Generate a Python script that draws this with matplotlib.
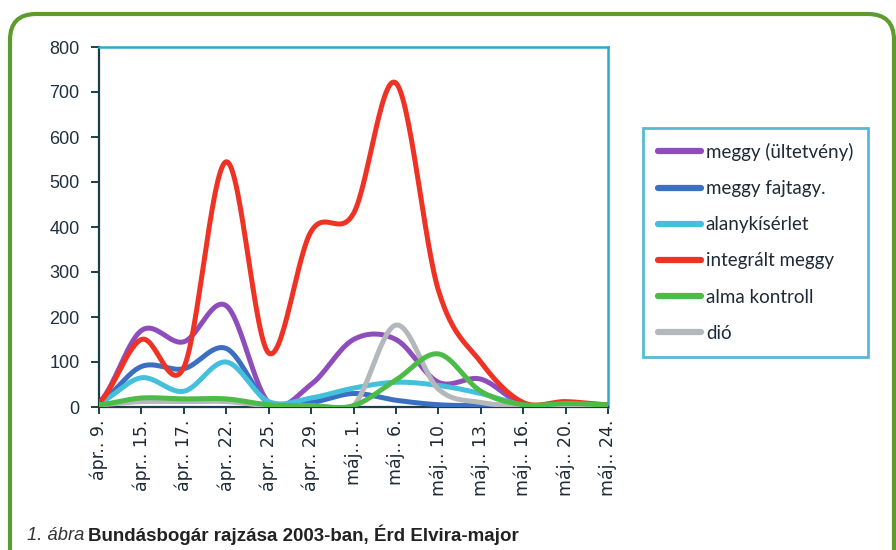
import numpy as np
import matplotlib
matplotlib.use("Agg")
import matplotlib.pyplot as plt
from matplotlib.patches import FancyBboxPatch

dates = ['ápr.. 9.', 'ápr.. 15.', 'ápr.. 17.', 'ápr.. 22.', 'ápr.. 25.', 'ápr.. 29.',
         'máj.. 1.', 'máj.. 6.', 'máj.. 10.', 'máj.. 13.', 'máj.. 16.', 'máj.. 20.', 'máj.. 24.']

meggy_ultetveny = [10, 170, 145, 225, 10, 50, 150, 150, 55, 62, 5, 3, 3]
meggy_fajtagy = [10, 90, 85, 130, 8, 10, 30, 15, 5, 3, 3, 3, 3]
alanykiserlet = [10, 65, 35, 100, 12, 20, 42, 55, 48, 30, 5, 3, 3]
integralt_meggy = [10, 150, 88, 545, 120, 390, 430, 720, 260, 100, 10, 12, 5]
alma_kontroll = [5, 20, 18, 18, 5, 3, 3, 60, 118, 35, 5, 8, 5]
dio = [5, 12, 12, 12, 3, 3, 3, 182, 40, 10, 3, 3, 3]

series = [
    ('meggy (ültetvény)', meggy_ultetveny, '#8F4DBB', 2),
    ('meggy fajtagy.', meggy_fajtagy, '#3A6FC2', 3),
    ('alanykísérlet', alanykiserlet, '#45C0DC', 4),
    ('integrált meggy', integralt_meggy, '#EE3224', 5),
    ('alma kontroll', alma_kontroll, '#4CBB48', 7),
    ('dió', dio, '#B4B8BC', 6),
]


def smooth(y, n=30):
    # Excel style smoothed line (Catmull-Rom through the points)
    y = np.asarray(y, dtype=float)
    x = np.arange(len(y), dtype=float)
    px = np.concatenate([[2 * x[0] - x[1]], x, [2 * x[-1] - x[-2]]])
    py = np.concatenate([[y[0]], y, [y[-1]]])
    xs, ys = [], []
    for i in range(1, len(px) - 2):
        t = np.linspace(0, 1, n, endpoint=False)
        p0, p1, p2, p3 = py[i - 1], py[i], py[i + 1], py[i + 2]
        q0, q1, q2, q3 = px[i - 1], px[i], px[i + 1], px[i + 2]
        ys.append(0.5 * (2 * p1 + (-p0 + p2) * t + (2 * p0 - 5 * p1 + 4 * p2 - p3) * t ** 2
                         + (-p0 + 3 * p1 - 3 * p2 + p3) * t ** 3))
        xs.append(0.5 * (2 * q1 + (-q0 + q2) * t + (2 * q0 - 5 * q1 + 4 * q2 - q3) * t ** 2
                         + (-q0 + 3 * q1 - 3 * q2 + q3) * t ** 3))
    xs.append([x[-1]])
    ys.append([y[-1]])
    return np.concatenate(xs), np.concatenate(ys)


fig = plt.figure(figsize=(8.96, 5.5), dpi=100)
ax = fig.add_axes([99 / 896, 1 - 407 / 550, (608 - 99) / 896, (407 - 47) / 550])

x_idx = np.arange(len(dates))
for label, vals, color, z in series:
    sx, sy = smooth(vals)
    ax.plot(sx, sy, color=color, lw=3.6, label=label, zorder=z, solid_capstyle='round')

ax.set_xlim(0, len(dates) - 1)
ax.set_ylim(0, 800)
ax.set_yticks(range(0, 801, 100))
ax.set_xticks(x_idx)
ax.set_xticklabels(dates, rotation=90, ha='center', va='top',
                   fontsize=12.5, color='#1E2A36', family=['DejaVu Sans'])
ax.set_yticklabels([str(v) for v in range(0, 801, 100)], fontsize=13,
                   color='#1E3040', family=['Liberation Sans Narrow', 'Liberation Sans'])

for s in ['left', 'bottom']:
    ax.spines[s].set_color('#1C3E4C')
    ax.spines[s].set_linewidth(1.6)
for s in ['top', 'right']:
    ax.spines[s].set_color('#2EA8C8')
    ax.spines[s].set_linewidth(1.8)
ax.tick_params(axis='y', direction='out', length=6, width=1.4, color='#1C3E4C', pad=8)
ax.tick_params(axis='x', direction='out', length=5, width=1.4, color='#1C3E4C', pad=4)

leg = fig.legend(loc='upper left', bbox_to_anchor=(643 / 896, 1 - 128 / 550),
                 bbox_transform=fig.transFigure, prop={'family': 'Lato', 'size': 13.5},
                 handlelength=2.3, handletextpad=0.25, labelspacing=1.02,
                 borderpad=0.8, borderaxespad=0, fancybox=False, frameon=True)
leg.get_frame().set_edgecolor('#2EA8C8')
leg.get_frame().set_linewidth(2)
for t in leg.get_texts():
    t.set_color('#1E2A36')
for h in leg.legend_handles:
    h.set_linewidth(4.5)

frame = FancyBboxPatch((0.10, -0.3), 8.84, 5.66, boxstyle='round,pad=0,rounding_size=0.26',
                       transform=fig.dpi_scale_trans, fill=False, edgecolor='#5E9B2F',
                       linewidth=3, clip_on=False)
fig.patches.append(frame)

fig.text(27 / 896, 1 - 535 / 550, '1. ábra', fontsize=13.2, style='italic', color='#333333',
         family=['Liberation Sans Narrow', 'Liberation Sans'], va='center', ha='left')
fig.text(88 / 896, 1 - 535 / 550, 'Bundásbogár rajzása 2003-ban, Érd Elvira-major', fontsize=13.5,
         weight='bold', color='#222222', family=['Liberation Sans Narrow', 'Liberation Sans'],
         va='center', ha='left')

fig.savefig('out.png', dpi=100)
